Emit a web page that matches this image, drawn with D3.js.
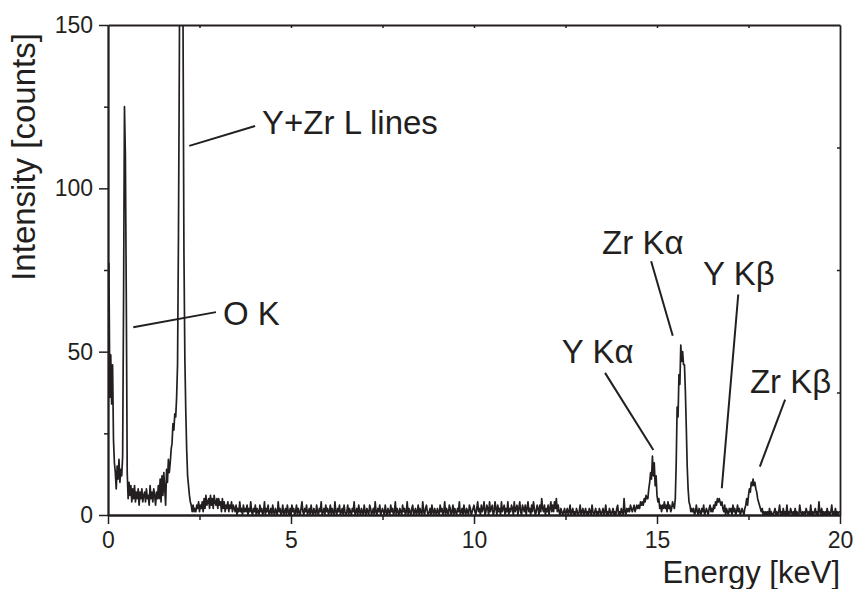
<!DOCTYPE html>
<html>
<head>
<meta charset="utf-8">
<script src="https://cdn.jsdelivr.net/npm/d3@7"></script>
<style>
  body { margin: 0; background: #fff; }
  svg text { font-family: "Liberation Sans", Arial, sans-serif; fill: #231f20; }
</style>
</head>
<body>
<svg width="855" height="589"></svg>
<script>
// spectrum, one count value per 0.025 keV channel, one row per keV
let energyStep = 0.025
let counts = [
  20,77,36,49,34,46,23,16,13,8, 15,11,17,10,14,12,18,65,125,110, 66,13,5,10,6,9,4,8,5,9, 4,7,5,8,3,7,5,8,4,6,
  7,4,8,5,6,3,9,5,7,4, 8,6,3,7,5,9,5,11,4,12, 6,13,8,3,14,10,17,13,16,20, 22,28,26,31,30,36,46,85,140,220,
  260,230,150,80,48,32,20,12,9,6, 4,3,1,3,1,2,1,3,2,4, 1,3,2,4,1,5,2,6,3,4, 5,2,6,3,5,2,6,4,3,5,
  2,5,3,4,1,5,2,4,1,3, 2,4,1,3,2,4,1,3,2,1, 3,0,2,1,4,1,2,0,3,1, 2,1,3,0,2,1,4,1,0,2,
  1,3,0,2,1,0,3,1,2,0, 1,4,0,2,1,3,0,1,2,0, 3,1,0,2,1,0,4,1,2,0, 1,3,0,1,2,0,3,1,0,2,
  0,3,1,2,0,1,3,0,2,1, 0,2,4,1,0,2,1,3,0,1, 2,0,3,1,0,2,1,0,3,1, 0,2,1,4,0,1,2,0,3,1,
  2,0,1,3,0,2,1,0,4,1, 0,2,1,3,0,1,2,0,3,1, 0,1,3,0,2,1,0,2,1,4, 0,1,2,0,3,1,0,2,1,0,
  3,1,0,2,1,0,3,2,0,1, 2,0,4,1,0,2,1,3,0,1, 2,1,0,3,1,0,2,1,0,3, 1,2,0,1,4,0,2,1,0,2,
  1,0,3,1,2,0,1,4,0,2, 1,0,2,3,0,1,2,0,1,3, 0,2,1,0,4,1,0,2,3,1, 0,1,2,0,3,1,0,2,1,0,
  2,1,0,3,1,2,0,1,4,0, 2,1,0,3,2,0,1,3,0,2, 1,0,2,1,4,0,1,2,0,3, 1,0,2,1,0,3,2,0,1,2,
  3,1,0,2,4,1,2,0,3,1, 2,4,0,1,3,2,0,4,1,2, 3,0,1,4,2,0,3,1,2,0, 4,1,2,3,0,2,1,4,0,2,
  1,3,2,0,4,1,2,3,0,2, 4,1,0,3,2,1,3,0,2,4, 1,2,0,3,1,4,2,0,1,3, 2,0,3,1,5,2,1,3,0,2,
  1,3,0,2,4,1,3,1,4,2, 5,1,3,1,0,2,1,0,1,2, 0,1,2,0,1,3,0,1,2,0, 1,0,2,1,0,1,3,0,1,2,
  0,1,2,0,1,0,2,1,0,3, 1,0,1,2,0,1,0,2,1,0, 1,2,0,1,3,0,1,0,2,1, 0,1,2,0,1,0,2,3,0,1,
  0,2,1,0,5,1,0,2,1,2, 1,3,2,1,2,3,1,2,3,2, 3,2,4,3,4,3,5,4,6,5, 5,8,10,13,11,18,12,16,9,12,
  6,4,5,2,3,1,3,2,4,2, 3,1,4,2,3,1,2,4,3,2, 5,16,33,30,43,40,52,47,50,46, 46,38,27,15,8,4,3,1,2,1,
  2,0,1,3,1,0,2,1,0,2, 1,3,0,1,2,1,0,2,3,1, 2,1,3,2,4,3,5,4,5,4, 3,4,2,1,3,0,2,1,0,2,
  1,2,0,3,1,2,0,1,3,1, 2,0,1,2,1,0,2,3,5,3, 6,8,7,10,9,11,9,10,8,7, 5,4,3,2,1,2,0,1,0,1,
  0,1,0,2,0,1,0,0,1,2, 0,1,0,1,3,0,1,0,2,0, 1,0,3,0,1,0,2,1,0,1, 0,2,0,1,0,0,3,1,0,1,
  0,1,0,2,1,0,1,0,3,0, 1,0,1,2,0,1,0,4,1,0, 2,0,1,0,1,0,2,0,1,0, 1,3,0,1,0,2,0,1,0,1,
  1
]

let xTicks = [0, 5, 10, 15, 20]
let xMinorTicks = [2.5, 7.5, 12.5, 17.5]
let yTicks = [0, 50, 100, 150]
let yMinorTicks = [25, 75, 125]
let rightTicks = [37.5, 75, 112.5]

// peak labels, in keV / counts
let peakLabels = ["O K", "Y+Zr L lines", "Zr K\u03b1", "Y K\u03b1", "Y K\u03b2", "Zr K\u03b2"]
let labelAt = [[3.14, 58.3], [4.21, 116.6], [13.5, 80.0], [12.4, 46.6], [16.26, 70.5], [17.54, 37.4]]
let leaderFrom = [[0.69, 57.5], [2.22, 113.0], [14.84, 77.7], [13.58, 43.5], [17.22, 67.5], [18.5, 35.3]]
let leaderTo = [[2.95, 62.1], [4.02, 119.1], [15.43, 54.9], [14.9, 19.9], [16.77, 8.2], [17.81, 14.8]]

let svg = d3.select("svg")
let plotLeft = 108, plotRight = 840, plotTop = 25, plotBottom = 515
let ink = "#231f20"

let x = d3.scaleLinear().domain([0, 20]).range([plotLeft, plotRight])
let y = d3.scaleLinear().domain([0, 150]).range([plotBottom, plotTop])

let spectrum = counts.map((c, i) => ({e: i * energyStep, c: c}))

svg.append("clipPath").attr("id", "plot")
  .append("rect")
    .attr("x", plotLeft).attr("y", plotTop)
    .attr("width", plotRight - plotLeft).attr("height", plotBottom - plotTop)

let line = d3.line()
    .x(d => x(d.e))
    .y(d => y(d.c))

svg.append("path")
    .datum(spectrum)
    .attr("clip-path", "url(#plot)")
    .attr("fill", "none")
    .attr("stroke", ink)
    .attr("stroke-width", 1.7)
    .attr("stroke-linejoin", "round")
    .attr("d", line)

let styleAxis = (g, fontSize) => {
  g.select(".domain").attr("stroke", ink).attr("stroke-width", 1.8)
  g.selectAll(".tick line").attr("stroke", ink).attr("stroke-width", 1.5)
  g.selectAll(".tick text").attr("fill", ink).style("font-size", fontSize + "px")
    .style("font-family", '"Liberation Sans", Arial, sans-serif')
}

// bottom axis
let xAxisG = svg.append("g").attr("class", "x-axis")
    .attr("transform", `translate(0,${plotBottom})`)
    .call(d3.axisBottom(x).tickValues(xTicks).tickSize(9).tickSizeOuter(0).tickPadding(8).tickFormat(d3.format("d")))
styleAxis(xAxisG, 23)

let xMinorG = svg.append("g")
    .attr("transform", `translate(0,${plotBottom})`)
    .call(d3.axisBottom(x).tickValues(xMinorTicks).tickSize(5).tickSizeOuter(0).tickFormat(""))
styleAxis(xMinorG, 23)

// left axis
let yAxisG = svg.append("g").attr("class", "y-axis")
    .attr("transform", `translate(${plotLeft},0)`)
    .call(d3.axisLeft(y).tickValues(yTicks).tickSize(9).tickSizeOuter(0).tickPadding(6).tickFormat(d3.format("d")))
styleAxis(yAxisG, 23)

let yMinorG = svg.append("g")
    .attr("transform", `translate(${plotLeft},0)`)
    .call(d3.axisLeft(y).tickValues(yMinorTicks).tickSize(4).tickSizeOuter(0).tickFormat(""))
styleAxis(yMinorG, 23)

// top and right frame, short ticks pointing in
let topG = svg.append("g")
    .attr("transform", `translate(0,${plotTop})`)
    .call(d3.axisBottom(x).tickValues(d3.range(2.5, 20, 2.5)).tickSize(3).tickSizeOuter(0).tickFormat(""))
styleAxis(topG, 23)

let rightG = svg.append("g")
    .attr("transform", `translate(${plotRight},0)`)
    .call(d3.axisLeft(y).tickValues(rightTicks).tickSize(3).tickSizeOuter(0).tickFormat(""))
styleAxis(rightG, 23)

// axis titles
svg.append("text")
    .attr("transform", `translate(35,157) rotate(-90)`)
    .attr("text-anchor", "middle")
    .style("font-size", "33px")
    .text("Intensity [counts]")

svg.append("text")
    .attr("x", plotRight)
    .attr("y", 582.5)
    .attr("text-anchor", "end")
    .style("font-size", "31px")
    .text("Energy [keV]")

// peak annotations
svg.append("g").selectAll("line")
  .data(leaderFrom)
  .join("line")
    .attr("x1", d => x(d[0]))
    .attr("y1", d => y(d[1]))
    .attr("x2", (d, i) => x(leaderTo[i][0]))
    .attr("y2", (d, i) => y(leaderTo[i][1]))
    .attr("stroke", ink)
    .attr("stroke-width", 2)

svg.append("g").selectAll("text")
  .data(peakLabels)
  .join("text")
    .attr("x", (d, i) => x(labelAt[i][0]))
    .attr("y", (d, i) => y(labelAt[i][1]))
    .style("font-size", "33px")
    .text(d => d)
</script>
</body>
</html>
